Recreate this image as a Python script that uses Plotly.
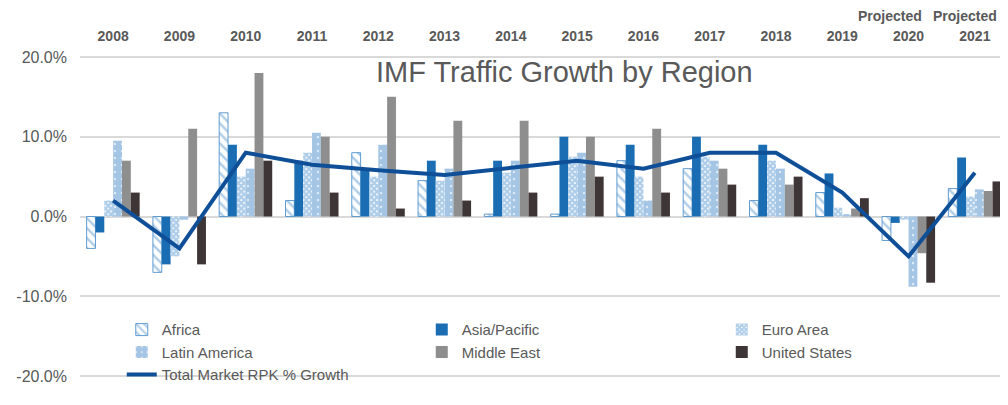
import plotly.graph_objects as go

years = ["2008", "2009", "2010", "2011", "2012", "2013", "2014", "2015",
         "2016", "2017", "2018", "2019", "2020", "2021"]
projected_years = ["2020", "2021"]

africa = [-4.0, -7.0, 13.0, 2.0, 8.0, 4.5, 0.3, 0.3, 7.0, 6.0, 2.0, 3.0, -3.0, 3.5]
asia_pacific = [-2.0, -6.0, 9.0, 7.0, 6.0, 7.0, 7.0, 10.0, 9.0, 10.0, 9.0, 5.4, -0.8, 7.4]
euro_area = [2.0, -5.0, 5.0, 8.0, 5.0, 4.5, 5.5, 7.5, 5.0, 7.5, 7.0, 1.1, -0.4, 2.5]
latin_america = [9.5, -0.4, 6.0, 10.5, 9.0, 6.0, 7.0, 8.0, 2.0, 7.0, 6.0, 0.3, -8.8, 3.4]
middle_east = [7.0, 11.0, 18.0, 10.0, 15.0, 12.0, 12.0, 10.0, 11.0, 6.0, 4.0, 1.0, -4.6, 3.2]
united_states = [3.0, -6.0, 7.0, 3.0, 1.0, 2.0, 3.0, 5.0, 3.0, 4.0, 5.0, 2.3, -8.3, 4.4]
total_rpk = [2.0, -4.0, 8.0, 6.5, 5.8, 5.2, 6.1, 7.0, 6.0, 8.0, 8.0, 3.0, -5.0, 5.5]

y_tickvals = [-20, -10, 0, 10, 20]
y_ticktext = ["-20.0%", "-10.0%", "0.0%", "10.0%", "20.0%"]

FONT = "Liberation Sans, Arial, sans-serif"
GRAY_TXT = "#595959"

fig = go.Figure()

fig.add_bar(name="Africa", x=years, y=africa,
            marker=dict(color="white",
                        line=dict(color="#5f9bd0", width=1),
                        pattern=dict(shape="\\", fgcolor="#5f9bd0", bgcolor="white",
                                     size=7, solidity=0.35)))
fig.add_bar(name="Asia/Pacific", x=years, y=asia_pacific,
            marker=dict(color="#1a6db3", line=dict(width=0)))
fig.add_bar(name="Euro Area", x=years, y=euro_area,
            marker=dict(color="white", line=dict(width=0),
                        pattern=dict(shape="x", fgcolor="#5d9bd3", bgcolor="white",
                                     size=4, solidity=0.8)))
fig.add_bar(name="Latin America", x=years, y=latin_america,
            marker=dict(color="white", line=dict(width=0),
                        pattern=dict(shape=".", fgcolor="#4a8cc9", bgcolor="white",
                                     size=7, solidity=0.85)))
fig.add_bar(name="Middle East", x=years, y=middle_east,
            marker=dict(color="#8e8e8e", line=dict(width=0)))
fig.add_bar(name="United States", x=years, y=united_states,
            marker=dict(color="#3e3536", line=dict(width=0)))
fig.add_scatter(name="Total Market RPK % Growth", x=years, y=total_rpk,
                mode="lines", line=dict(color="#0e4f98", width=4))

annotations = [dict(text="IMF Traffic Growth by Region", xref="paper", yref="paper",
                    x=0.5226, y=0.944, xanchor="center", yanchor="middle",
                    showarrow=False, font=dict(size=29, color=GRAY_TXT, family=FONT))]
for yr, shift in zip(projected_years, [-19, -10]):
    annotations.append(dict(text="Projected", xref="x", yref="paper", x=years.index(yr),
                            y=1.109, xanchor="center", yanchor="middle", xshift=shift,
                            showarrow=False,
                            font=dict(size=14, color=GRAY_TXT, family=FONT, weight="bold")))

# The page body adds an 8px offset, so the figure is 8px smaller than the window.
fig.update_layout(
    width=1000, height=397,
    margin=dict(l=72, r=0, t=45, b=13, autoexpand=False),
    paper_bgcolor="white", plot_bgcolor="white",
    barmode="group", bargap=0.2, bargroupgap=0,
    font=dict(family=FONT, color=GRAY_TXT),
    showlegend=True,
    legend=dict(orientation="h", x=0.045, y=0.232, xanchor="left", yanchor="top",
                entrywidth=255, entrywidthmode="pixels",
                bgcolor="rgba(0,0,0,0)", font=dict(size=15, color=GRAY_TXT),
                traceorder="normal"),
    annotations=annotations,
)

fig.update_xaxes(side="top", type="category", range=[-0.5, 13.5],
                 showgrid=False, showline=False,
                 automargin=False, ticks="", ticklabelstandoff=8,
                 tickfont=dict(size=14, color=GRAY_TXT, family=FONT, weight="bold"))
fig.update_yaxes(range=[-22, 20.5], tickvals=y_tickvals, ticktext=y_ticktext,
                 automargin=False, ticklabelstandoff=12,
                 showgrid=True, gridcolor="#d9d9d9", gridwidth=1.5,
                 zeroline=True, zerolinecolor="#d9d9d9", zerolinewidth=1.5,
                 tickfont=dict(size=16, color=GRAY_TXT), ticks="", ticklen=0)

fig.write_html("out.html")
